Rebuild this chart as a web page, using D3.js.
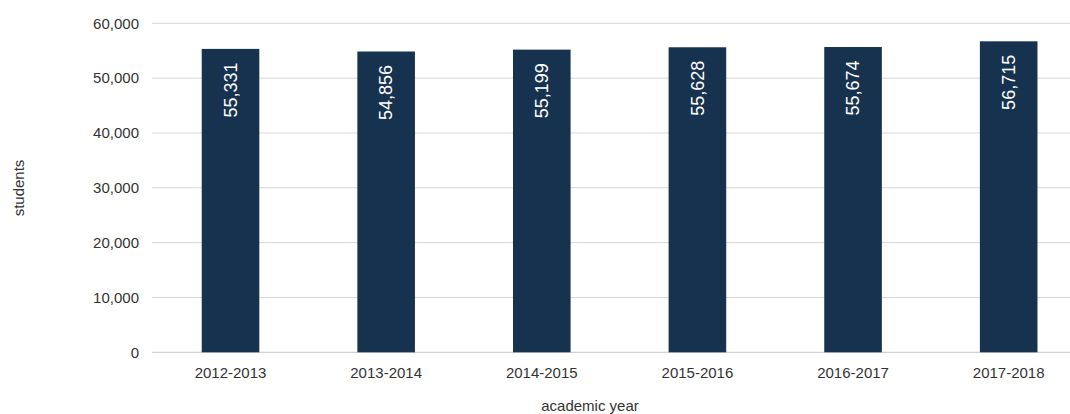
<!DOCTYPE html>
<html><head><meta charset="utf-8">
<script src="https://cdn.jsdelivr.net/npm/d3@7"></script>
<style>body{margin:0;background:#fff}svg{display:block;font-family:"Liberation Sans",Arial,sans-serif}</style>
</head><body><svg id="c" width="1070" height="414"></svg>
<script>
const categories = ["2012-2013","2013-2014","2014-2015","2015-2016","2016-2017","2017-2018"];
const students = [55331,54856,55199,55628,55674,56715];
const yTicks = [0,10000,20000,30000,40000,50000,60000];

const svg = d3.select("#c");
const x = d3.scaleBand().domain(categories).range([152.7,1086.5]).paddingInner(0.63).paddingOuter(0.315);
const y = d3.scaleLinear().domain([0,60000]).range([352.3,23.3]);
const fmt = d3.format(",");

const g = svg.append("g");
g.selectAll("line.grid").data(yTicks).join("line")
  .attr("x1",152).attr("x2",1070)
  .attr("y1",d=>y(d)).attr("y2",d=>y(d))
  .attr("stroke",d=>d===0?"#c4c8cc":"#d3d6d9").attr("stroke-width",1);

g.selectAll("text.yt").data(yTicks).join("text")
  .attr("x",139).attr("y",d=>y(d)).attr("dy","0.35em")
  .attr("text-anchor","end").attr("font-size",15).attr("fill","#333")
  .text(d=>fmt(d));

g.selectAll("rect").data(students).join("rect")
  .attr("x",(d,i)=>x(categories[i])).attr("width",x.bandwidth())
  .attr("y",d=>y(d)).attr("height",d=>y(0)-y(d)).attr("fill","#17324f");

g.selectAll("text.lbl").data(students).join("text")
  .attr("transform",(d,i)=>`translate(${x(categories[i])+x.bandwidth()/2},${y(d)+13.5}) rotate(-90)`)
  .attr("text-anchor","end").attr("dy","0.35em")
  .attr("font-size",18).attr("fill","#fff").text(d=>fmt(d));

g.selectAll("text.xt").data(categories).join("text")
  .attr("x",d=>x(d)+x.bandwidth()/2).attr("y",373).attr("dy","0.35em")
  .attr("text-anchor","middle").attr("font-size",15).attr("fill","#333").text(d=>d);

svg.append("text").attr("x",590).attr("y",411)
  .attr("text-anchor","middle").attr("font-size",15).attr("fill","#333").text("academic year");
svg.append("text").attr("transform","translate(19,188) rotate(-90)").attr("dy","0.35em")
  .attr("text-anchor","middle").attr("font-size",15).attr("fill","#333").text("students");
</script></body></html>
